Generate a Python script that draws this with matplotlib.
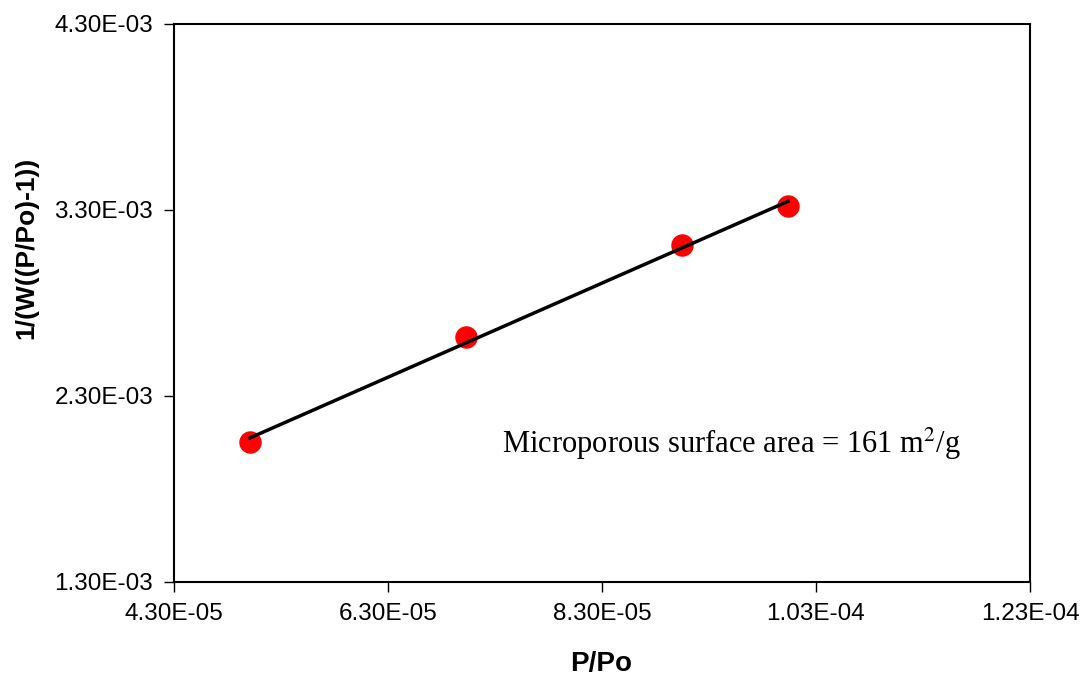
import matplotlib
matplotlib.use("Agg")
import matplotlib.pyplot as plt
import numpy as np

plt.rcParams['mathtext.fontset'] = 'stix'

x_vals = [5.01e-5, 7.03e-5, 9.05e-5, 1.004e-4]
y_vals = [2.053e-3, 2.617e-3, 3.112e-3, 3.322e-3]
x_ticks = [4.3e-5, 6.3e-5, 8.3e-5, 1.03e-4, 1.23e-4]
x_ticklabels = ["4.30E-05", "6.30E-05", "8.30E-05", "1.03E-04", "1.23E-04"]
y_ticks = [1.3e-3, 2.3e-3, 3.3e-3, 4.3e-3]
y_ticklabels = ["1.30E-03", "2.30E-03", "3.30E-03", "4.30E-03"]

fig = plt.figure(figsize=(10.82, 6.79), dpi=100)
ax = fig.add_axes([174/1082, 1-582/679, (1030-174)/1082, (582-24)/679])

xa = np.array(x_vals)
ya = np.array(y_vals)
m, b = np.polyfit(xa, ya, 1)
xl = np.array([xa.min(), xa.max()])
ax.plot(xl, m*xl + b, color="black", lw=2.5, zorder=3)
ax.scatter(xa, ya, s=230, color="#ff0000", edgecolors="#ff0000", zorder=2)

ax.set_xlim(4.3e-5, 1.23e-4)
ax.set_ylim(1.3e-3, 4.3e-3)
ax.set_xticks(x_ticks)
ax.set_xticklabels(x_ticklabels)
ax.set_yticks(y_ticks)
ax.set_yticklabels(y_ticklabels)
for lab in ax.get_xticklabels() + ax.get_yticklabels():
    lab.set_family("Liberation Sans")
    lab.set_fontsize(17.5)
ax.tick_params(direction="out", length=7, width=1, pad=8)
for s in ax.spines.values():
    s.set_linewidth(1.5)

ax.set_xlabel("P/Po", fontsize=20, fontweight="bold", family="Liberation Sans")
ax.xaxis.set_label_coords((601-174)/856, (582-651)/558)
ax.set_ylabel("1/(W((P/Po)-1))", fontsize=19, fontweight="bold", family="Liberation Sans")
ax.yaxis.set_label_coords((38-174)/856, (582-248)/558)

ax.text(7.365e-5, 2.042e-3, "Microporous surface area = 161 m$^2$/g",
        fontsize=22, family="Liberation Serif", va="center", ha="left")

fig.savefig("out.png", dpi=100)
